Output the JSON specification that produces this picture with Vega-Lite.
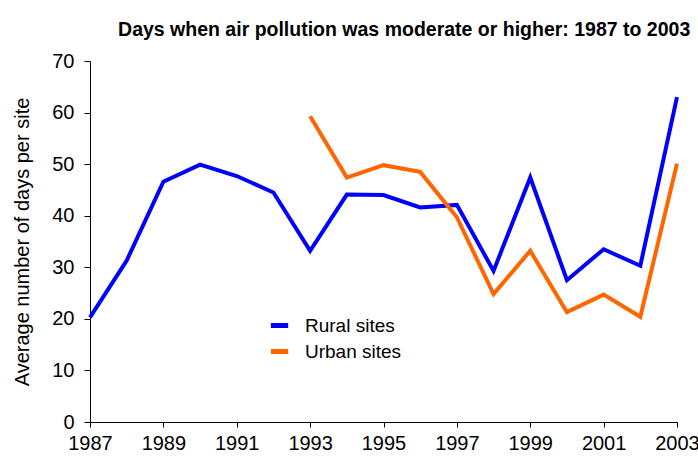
{
  "$schema": "https://vega.github.io/schema/vega-lite/v6.json",
  "width": 587,
  "height": 361,
  "autosize": {"type": "none"},
  "padding": {"left": 90, "top": 61, "right": 21, "bottom": 36},
  "background": "white",
  "config": {"view": {"stroke": null}, "font": "Liberation Sans"},
  "title": {"text": "Days when air pollution was moderate or higher: 1987 to 2003", "anchor": "end", "dx": -9, "offset": 11, "fontSize": 19.5, "fontWeight": "bold", "font": "Liberation Sans", "color": "black"},
  "data": {"values": [
    {"year": 1987, "value": 20.3, "site": "Rural sites"},
    {"year": 1988, "value": 31.3, "site": "Rural sites"},
    {"year": 1989, "value": 46.6, "site": "Rural sites"},
    {"year": 1990, "value": 49.9, "site": "Rural sites"},
    {"year": 1991, "value": 47.7, "site": "Rural sites"},
    {"year": 1992, "value": 44.5, "site": "Rural sites"},
    {"year": 1993, "value": 33.2, "site": "Rural sites"},
    {"year": 1994, "value": 44.1, "site": "Rural sites"},
    {"year": 1995, "value": 44.0, "site": "Rural sites"},
    {"year": 1996, "value": 41.6, "site": "Rural sites"},
    {"year": 1997, "value": 42.1, "site": "Rural sites"},
    {"year": 1998, "value": 29.3, "site": "Rural sites"},
    {"year": 1999, "value": 47.4, "site": "Rural sites"},
    {"year": 2000, "value": 27.5, "site": "Rural sites"},
    {"year": 2001, "value": 33.5, "site": "Rural sites"},
    {"year": 2002, "value": 30.3, "site": "Rural sites"},
    {"year": 2003, "value": 63.0, "site": "Rural sites"},
    {"year": 1993, "value": 59.3, "site": "Urban sites"},
    {"year": 1994, "value": 47.4, "site": "Urban sites"},
    {"year": 1995, "value": 49.8, "site": "Urban sites"},
    {"year": 1996, "value": 48.5, "site": "Urban sites"},
    {"year": 1997, "value": 39.7, "site": "Urban sites"},
    {"year": 1998, "value": 24.8, "site": "Urban sites"},
    {"year": 1999, "value": 33.2, "site": "Urban sites"},
    {"year": 2000, "value": 21.3, "site": "Urban sites"},
    {"year": 2001, "value": 24.7, "site": "Urban sites"},
    {"year": 2002, "value": 20.4, "site": "Urban sites"},
    {"year": 2003, "value": 50.1, "site": "Urban sites"}
  ]},
  "mark": {"type": "line", "strokeWidth": 4, "strokeJoin": "miter"},
  "encoding": {
    "x": {"field": "year", "type": "quantitative",
      "scale": {"domain": [1987, 2003], "nice": false, "zero": false},
      "axis": {"values": [1987, 1989, 1991, 1993, 1995, 1997, 1999, 2001, 2003], "format": "d", "title": null, "grid": false, "labelFlush": false, "labelOverlap": false,
        "domainColor": "black", "tickColor": "black", "tickSize": 5, "labelFontSize": 20, "labelColor": "black", "labelPadding": 6, "labelFont": "Liberation Sans"}},
    "y": {"field": "value", "type": "quantitative",
      "scale": {"domain": [0, 70], "nice": false},
      "axis": {"values": [0, 10, 20, 30, 40, 50, 60, 70], "title": "Average number of days per site", "grid": false, "labelFlush": false,
        "domainColor": "black", "tickColor": "black", "tickSize": 6, "labelFontSize": 20, "labelColor": "black", "labelPadding": 10,
        "titleFontSize": 20, "titleFontWeight": "normal", "titleColor": "black", "titlePadding": 19, "labelFont": "Liberation Sans", "titleFont": "Liberation Sans"}},
    "color": {"field": "site", "type": "nominal",
      "scale": {"domain": ["Rural sites", "Urban sites"], "range": ["#0000FF", "#FF6600"]},
      "legend": {"orient": "none", "legendX": 178, "legendY": 253, "title": null, "symbolType": "stroke", "symbolStrokeWidth": 5, "symbolSize": 300,
        "labelFontSize": 19, "labelColor": "black", "labelFont": "Liberation Sans", "rowPadding": 4, "labelOffset": 14}}
  }
}
